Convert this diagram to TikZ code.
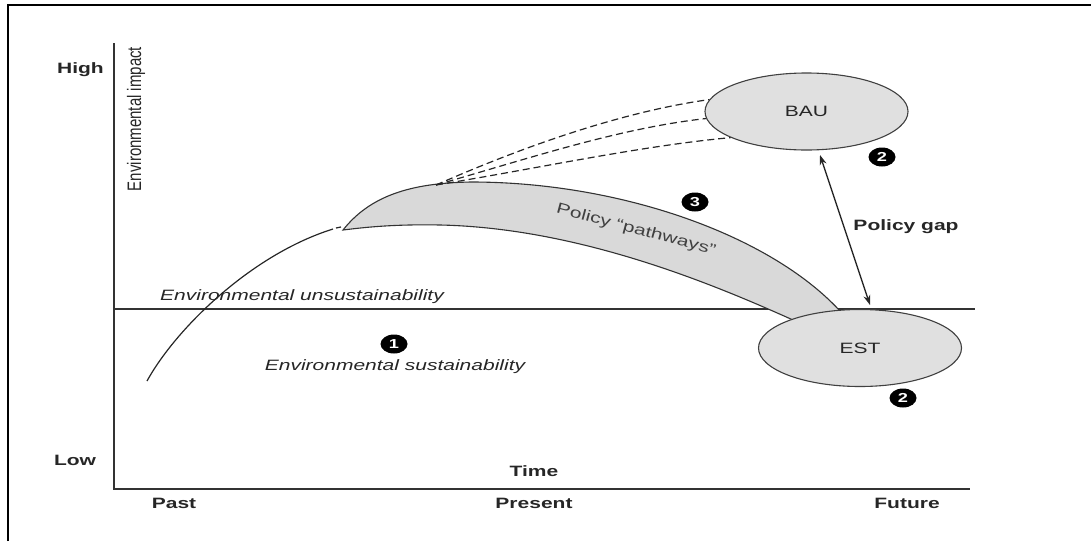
\documentclass[tikz,border=0pt]{standalone}
\usepackage{graphicx}
\usepackage{fontspec}
\setmainfont{Liberation Sans}
% the printed figure sets its text wide
\newfontfamily\widefont[FakeStretch=1.4]{Liberation Sans}
\usetikzlibrary{shapes.geometric,arrows.meta}

\begin{document}
\begin{tikzpicture}[x=1pt,y=-1pt,
  every node/.style={font=\widefont\fontsize{15}{18}\selectfont, text=black!85, inner sep=0pt},
  frameline/.style={line width=2pt, draw=black},
  axis/.style={line width=1.4pt, draw=black!80},
  trend/.style={line width=1.2pt, draw=black!85},
  scenario/.style={dash pattern=on 7pt off 4pt, line width=1.2pt, draw=black!85},
  band/.style={line width=1.1pt, draw=black!80, fill=black!15},
  oval/.style={ellipse, draw=black!75, line width=1.1pt, fill=black!12,
               minimum width=203pt, minimum height=77pt},
  badge/.style={ellipse, fill=black, minimum width=27pt, minimum height=19pt,
                text=white, font=\widefont\fontsize{13}{15}\selectfont\bfseries},
  axislabel/.style={font=\widefont\fontsize{15}{18}\selectfont\bfseries},
  zonelabel/.style={font=\widefont\fontsize{15}{18}\selectfont\itshape},
  gap/.style={{Stealth[length=10pt,width=7pt]}-{Stealth[length=10pt,width=7pt]}, line width=1.3pt, draw=black!85}
]
\useasboundingbox (0,0) rectangle (1091,541);

% frame
\draw[frameline] (8,541) -- (8,5) -- (1091,5);

% axes
\coordinate (origin) at (114,489);
\coordinate (ytop) at (114,43);
\coordinate (xend) at (970,489);
\draw[axis] (ytop) -- (origin) -- (xend);

% sustainability threshold
\coordinate (thrL) at (114,309);
\coordinate (thrR) at (975,309);
\draw[line width=1.2pt, draw=black!80] (thrL) -- (thrR);

% historical trend
\draw[trend] (147,381) .. controls (175,330) and (250,255) .. (333,229);
\draw[trend] (336,228) -- (341,227);

% policy pathways band
\draw[band] (343,230) .. controls (370,196) and (410,183) .. (471,182)
  .. controls (620,182) and (770,235) .. (840,311)
  -- (793,320)
  .. controls (715,285) and (580,228) .. (440,225)
  .. controls (390,224) and (360,228) .. (343,230) -- cycle;

% scenario outcomes
\node[oval] (BAU) at (806.5,111.5) {BAU};
\node[oval] (EST) at (860,348) {EST};

% business-as-usual projections
\coordinate (fork) at (436,185);
\draw[scenario] (fork) .. controls (520,148) and (620,112) .. (BAU.173);
\draw[scenario] (fork) .. controls (530,158) and (620,128) .. (BAU.184);
\draw[scenario] (fork) .. controls (540,168) and (640,146) .. (BAU.199);

% policy gap
\coordinate (gapTop) at (820,155);
\coordinate (gapBot) at (870,305);
\draw[gap] (gapTop) -- (gapBot);
\node[axislabel] (gaplbl) at (906,227) {Policy gap};

% axis labels
\node[axislabel, anchor=east] (high) at (104,70) {High};
\node[axislabel] (low) at (75,460) {Low};
\node[rotate=90, font=\fontsize{15}{18}\selectfont] (yname) at (136,119) {\scalebox{1}[1.3]{Environmental impact}};
\node[axislabel] (time) at (534,471) {Time};
\node[axislabel] (past) at (174,503) {Past};
\node[axislabel] (present) at (534,503) {Present};
\node[axislabel] (future) at (907,503) {Future};

% zone labels
\node[zonelabel] (unsus) at (302,297) {Environmental unsustainability};
\node[zonelabel] (sus) at (395,367) {Environmental sustainability};
\node[rotate=-15, text=black!75] (pathlbl) at (636,230) {Policy “pathways”};

% numbered markers
\node[badge] (b1) at (394,344) {1};
\node[badge] (b2a) at (882,157) {2};
\node[badge] (b2b) at (903,398) {2};
\node[badge] (b3) at (695,202) {3};
\end{tikzpicture}
\end{document}
